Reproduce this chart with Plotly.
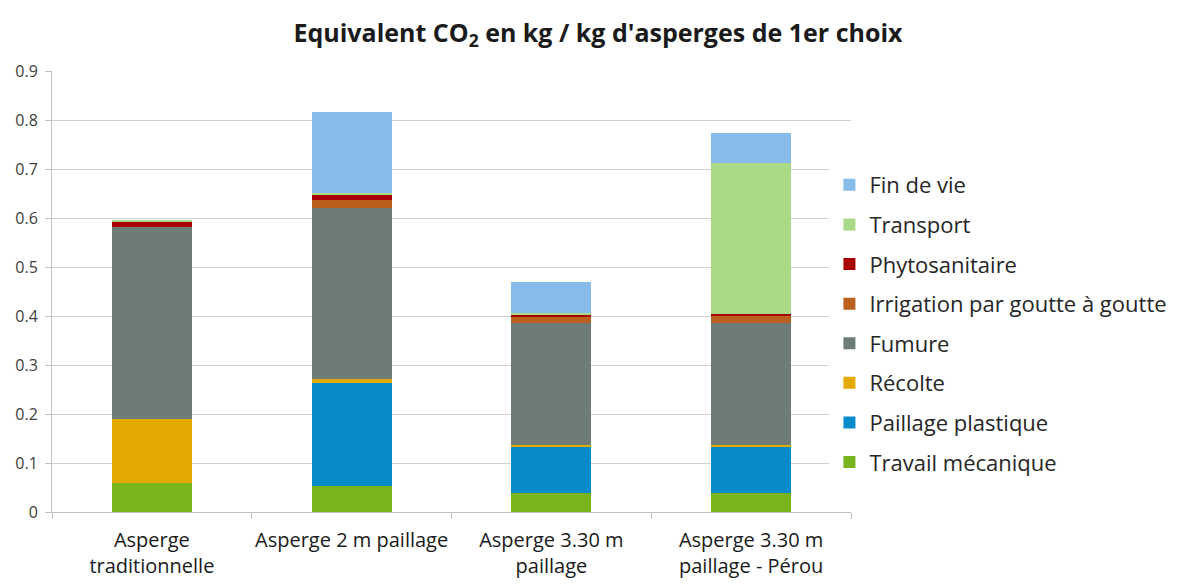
import plotly.graph_objects as go

categories = ["Asperge<br>traditionnelle", "Asperge 2 m paillage",
              "Asperge 3.30 m<br>paillage", "Asperge 3.30 m<br>paillage - Pérou"]

travail_mecanique = [0.060, 0.054, 0.038, 0.038]
paillage_plastique = [0.000, 0.210, 0.095, 0.095]
recolte = [0.129, 0.007, 0.003, 0.003]
fumure = [0.393, 0.350, 0.249, 0.249]
irrigation = [0.000, 0.016, 0.012, 0.014]
phytosanitaire = [0.011, 0.010, 0.005, 0.006]
transport = [0.003, 0.005, 0.005, 0.308]
fin_de_vie = [0.000, 0.165, 0.062, 0.060]

series = [
    ("Travail mécanique", travail_mecanique, "#78B41E"),
    ("Paillage plastique", paillage_plastique, "#088BCA"),
    ("Récolte", recolte, "#E2AA00"),
    ("Fumure", fumure, "#6E7C77"),
    ("Irrigation par goutte à goutte", irrigation, "#B9601E"),
    ("Phytosanitaire", phytosanitaire, "#A80000"),
    ("Transport", transport, "#AADA88"),
    ("Fin de vie", fin_de_vie, "#86BBEA"),
]

FONT = "Open Sans, sans-serif"

fig = go.Figure()
for i, (name, vals, color) in enumerate(series):
    fig.add_trace(go.Bar(
        x=categories, y=vals, name=name,
        marker=dict(color=color, line=dict(width=0)),
        legendgroup=f"g{i}",
        legendrank=len(series) - i,
        width=0.4,
    ))

# the page body adds an 8px offset, so margins are shifted by that
fig.update_layout(
    width=1179, height=585,
    barmode="stack",
    plot_bgcolor="white", paper_bgcolor="white",
    margin=dict(l=44, r=336, t=63, b=81),
    font=dict(family=FONT, color="#404040"),
    title=dict(
        text="<b>Equivalent CO<sub>2</sub> en kg / kg d'asperges de 1er choix</b>",
        x=0.5004, xanchor="center", y=0.957, yanchor="middle",
        font=dict(size=25, color="#1a1a1a", family=FONT),
    ),
    legend=dict(
        x=0.973, xanchor="left", y=0.789, yanchor="top",
        traceorder="grouped", tracegroupgap=8,
        font=dict(size=22, color="#262626", family=FONT),
        itemwidth=30,
    ),
    xaxis=dict(
        automargin=False, tickangle=0,
        showline=True, linecolor="#BFBFBF", linewidth=1,
        ticks="outside", tickson="boundaries", ticklen=6, tickcolor="#BFBFBF",
        ticklabelstandoff=10,
        tickfont=dict(size=20, color="#1a1a1a", family=FONT),
        showgrid=False,
    ),
    yaxis=dict(
        automargin=False,
        range=[0, 0.9], dtick=0.1, tickformat="~g",
        showline=True, linecolor="#BFBFBF", linewidth=1,
        ticks="outside", ticklen=6, tickcolor="#BFBFBF",
        ticklabelstandoff=4,
        showgrid=True, gridcolor="#D0D0D0", gridwidth=1,
        zeroline=False,
        tickfont=dict(size=16, color="#404040", family=FONT),
    ),
)

fig.write_html("out.html")
